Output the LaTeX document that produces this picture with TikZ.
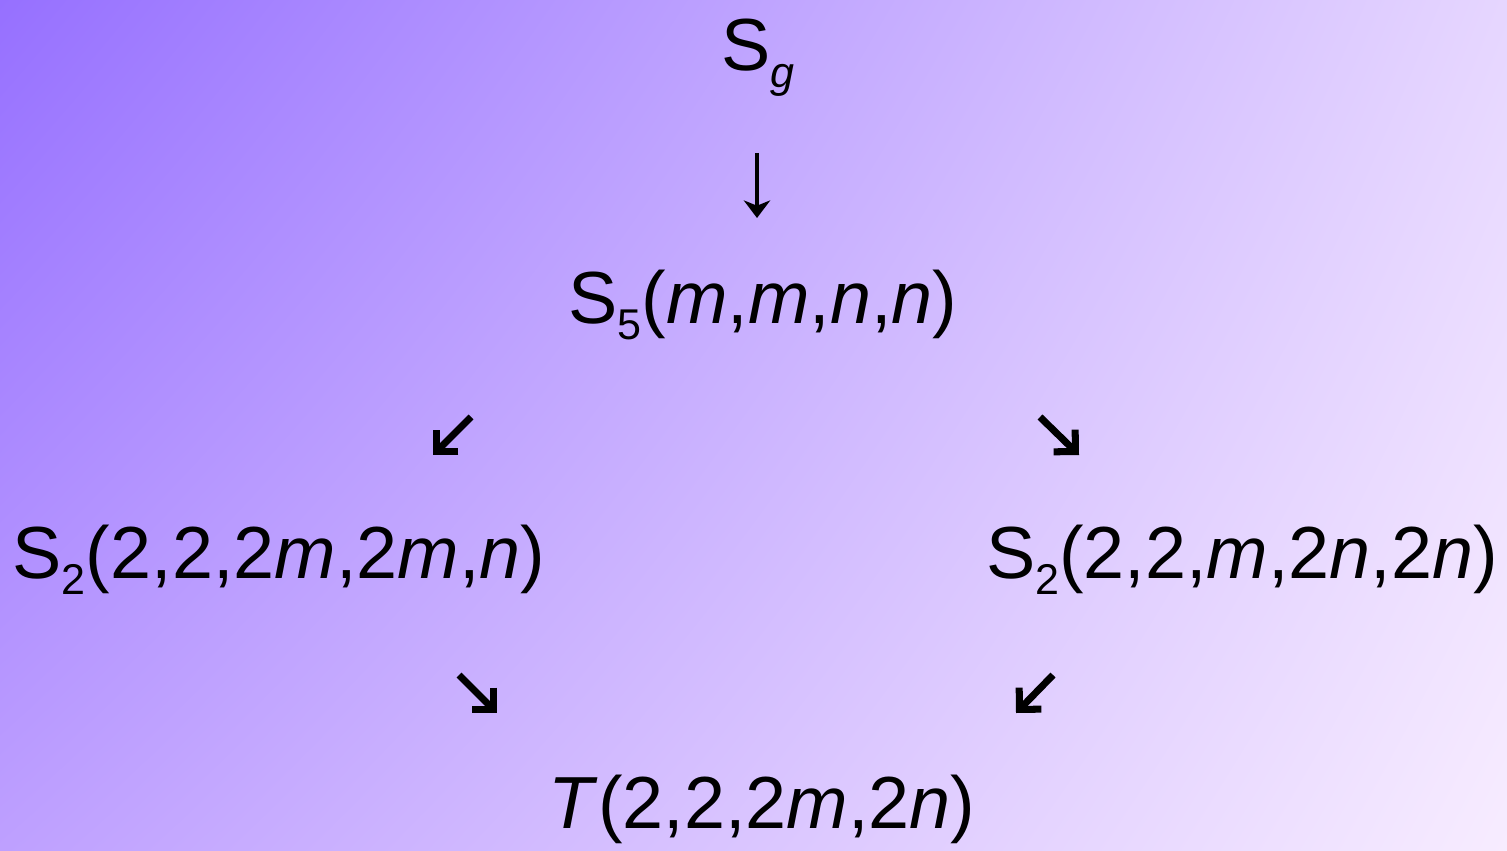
\documentclass[tikz,border=0pt]{standalone}
\usepackage{fontspec}
\setmainfont{Liberation Sans}
\usetikzlibrary{arrows.meta,shadings}
\definecolor{bgTL}{RGB}{150,112,255}
\definecolor{bgTR}{RGB}{230,214,255}
\definecolor{bgBL}{RGB}{190,160,255}
\definecolor{bgBR}{RGB}{247,236,255}
\newcommand{\lowr}[1]{\raisebox{-.23em}{\fontsize{24.5}{24.5}\selectfont #1}}
\begin{document}
\begin{tikzpicture}[x=.02cm,y=-.02cm,
  lab/.style={anchor=base,inner sep=0pt,font=\fontsize{42}{50}\selectfont},
  downarr/.style={line width=2.2pt,-{Stealth[length=10pt,width=15pt,inset=3pt]}},
  diagarr/.style={line width=4pt,-{Straight Barb[length=8.8pt,width=17.6pt,line join=miter,line cap=butt]}}]
\useasboundingbox (0,0) rectangle (1507,851);
\shade[upper left=bgTL,upper right=bgTR,lower left=bgBL,lower right=bgBR] (0,0) rectangle (1507,851);
\node[lab] (sg) at (758,71){S\lowr{\textit{g}}};
\node[lab] (sfive) at (763,323){S\lowr{5}(\textit{m},\textit{m},\textit{n},\textit{n})};
\node[lab] (stwoa) at (279,578){S\lowr{2}(2,2,2\textit{m},2\textit{m},\textit{n})};
\node[lab] (stwob) at (1242,578){S\lowr{2}(2,2,\textit{m},2\textit{n},2\textit{n})};
\node[lab] (tor) at (762,828){\textit{T}(2,2,2\textit{m},2\textit{n})};
\coordinate (d1) at (757,153);\coordinate (d2) at (757,218);
\coordinate (l1) at (471,417);\coordinate (l2) at (433,455);
\coordinate (r1) at (1040,417);\coordinate (r2) at (1079,455);
\coordinate (l3) at (459,675);\coordinate (l4) at (497,713);
\coordinate (r3) at (1053,675);\coordinate (r4) at (1016,713);
\draw[downarr] (d1) -- (d2);
\draw[diagarr] (l1) -- (l2);\draw[diagarr] (r1) -- (r2);
\draw[diagarr] (l3) -- (l4);\draw[diagarr] (r3) -- (r4);
\end{tikzpicture}
\end{document}
